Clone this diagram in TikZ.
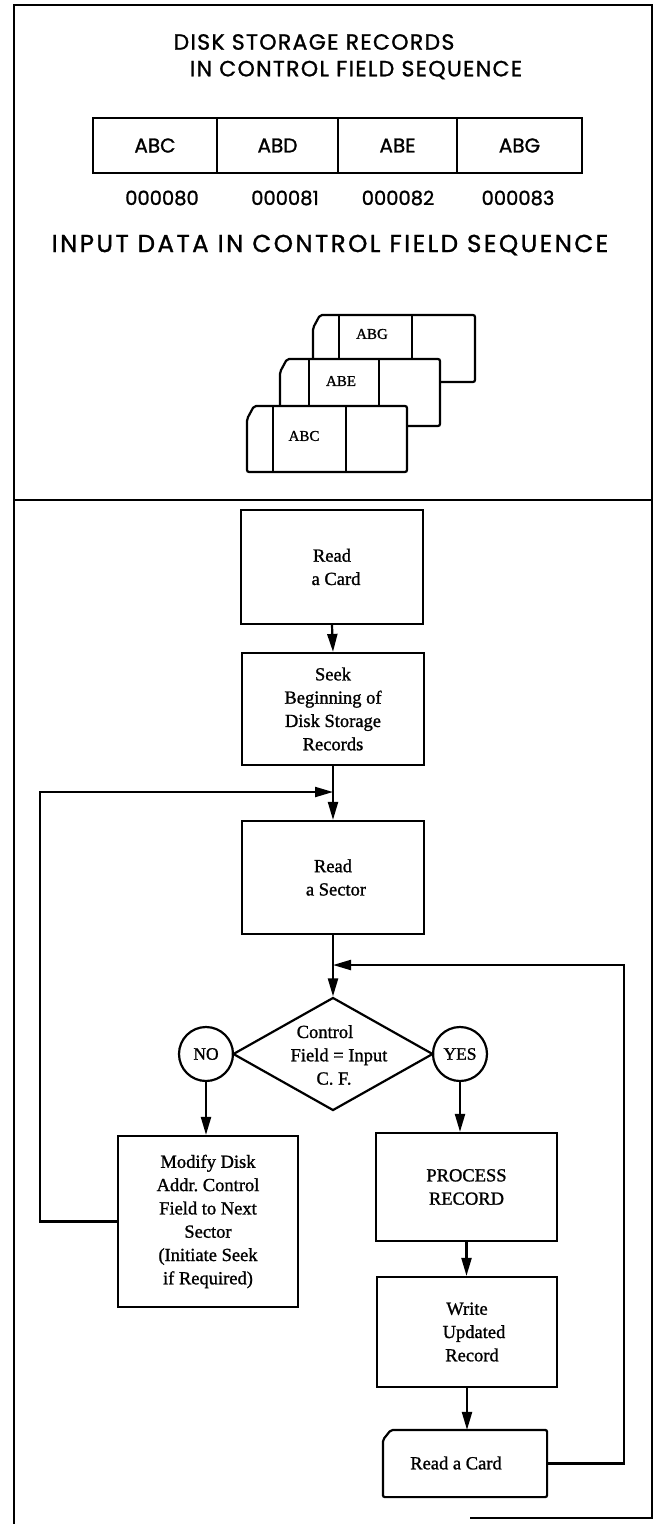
\documentclass[tikz,border=0pt]{standalone}
\usepackage{fontspec}
\setmainfont{Liberation Serif}[FakeBold=1.2]
\newfontfamily\headfont{Poppins}[FakeBold=1.2]
\newfontfamily\headwide{Poppins}[FakeBold=1.2,LetterSpace=6]
\newfontfamily\headwider{Poppins}[FakeBold=1.2,LetterSpace=10]
\usetikzlibrary{arrows.meta,shapes.geometric}
\begin{document}
\begin{tikzpicture}[x=1pt,y=-1pt,
  line width=2.2pt,
  head/.style={font=\headwide\fontsize{22}{26}\selectfont, inner sep=0pt},
  cell/.style={draw, minimum height=55pt, inner sep=0pt, font=\headfont\fontsize{20}{24}\selectfont},
  num/.style={font=\headfont\fontsize{19.5}{24}\selectfont, inner sep=0pt},
  cardtxt/.style={font=\fontsize{15}{16}\selectfont, inner sep=0pt},
  box/.style={draw, inner sep=0pt, align=center, font=\fontsize{18.5}{23.3}\selectfont},
  yn/.style={draw, circle, minimum size=54pt, inner sep=0pt, font=\fontsize{17.5}{18}\selectfont},
  arr/.style={-{Triangle[length=18pt,width=10pt]}, line width=2.2pt},
  card/.style={draw, fill=white, rounded corners=2pt}
]
\useasboundingbox (0,0) rectangle (655,1524);

% frame
\draw (14,1524) -- (14,5) -- (652,5) -- (652,1518) -- (470,1518);
\draw (14,500) -- (652,500);

% ---- top section ----
\node[head] (t1) at (314,42) {DISK STORAGE RECORDS};
\node[head] (t2) at (356,70) {IN CONTROL FIELD SEQUENCE};

\node[cell, minimum width=124pt] (r1) at (155,145.5) {ABC};
\node[cell, minimum width=121pt] (r2) at (277.5,145.5) {ABD};
\node[cell, minimum width=119pt] (r3) at (397.5,145.5) {ABE};
\node[cell, minimum width=125pt] (r4) at (519.5,145.5) {ABG};

\node[num] (n1) at (162,198) {000080};
\node[num] (n2) at (285,198) {000081};
\node[num] (n3) at (398,198) {000082};
\node[num] (n4) at (518,198) {000083};

\node[inner sep=0pt, font=\headwider\fontsize{24.5}{28}\selectfont] (t3) at (330,245) {INPUT DATA IN CONTROL FIELD SEQUENCE};

% cards
\draw[card] (313,382) -- (313,328) -- (320,315) -- (475,315) -- (475,382) -- cycle;
\draw (339,315) -- (339,382) (412,315) -- (412,382);
\node[cardtxt] (cg) at (372,334) {ABG};

\draw[card] (280,426) -- (280,372) -- (287,359) -- (440,359) -- (440,426) -- cycle;
\draw (309,359) -- (309,426) (379,359) -- (379,426);
\node[cardtxt] (ce) at (341,381) {ABE};

\draw[card] (247,472) -- (247,419) -- (254,406) -- (407,406) -- (407,472) -- cycle;
\draw (273,406) -- (273,472) (346,406) -- (346,472);
\node[cardtxt] (cc) at (304,436) {ABC};

% ---- flowchart ----
\node[box, minimum width=182pt, minimum height=114pt] (b1) at (332,567) {Read\\\hspace*{8pt}a Card};
\node[box, minimum width=182pt, minimum height=112pt] (b2) at (333,709) {Seek\\Beginning of\\Disk Storage\\Records};
\node[box, minimum width=182pt, minimum height=113pt] (b3) at (333,877.5) {Read\\\hspace*{6pt}a Sector};
\node[diamond, draw, minimum width=200pt, minimum height=113pt, inner sep=0pt] (dia) at (333,1054) {};
\node[align=center, inner sep=0pt, font=\fontsize{18.5}{23.3}\selectfont] (diat) at (334,1055) {\hspace*{-18pt}Control\\\hspace*{10pt}Field = Input\\C. F.};
\node[yn] (no) at (206,1054) {NO};
\node[yn] (yes) at (460,1054) {YES};
\node[box, minimum width=180pt, minimum height=171pt] (mod) at (208,1221.5) {Modify Disk\\Addr.\ Control\\Field to Next\\Sector\\(Initiate Seek\\if Required)};
\node[box, minimum width=181pt, minimum height=108pt] (proc) at (466.5,1187) {PROCESS\\RECORD};
\node[box, minimum width=180pt, minimum height=110pt] (wr) at (467,1332) {Write\\\hspace*{14pt}Updated\\\hspace*{10pt}Record};
\node[minimum width=162pt, minimum height=65pt, inner sep=0pt] (rc) at (465,1463.5) {};
\draw[rounded corners=2pt] (rc.south west) -- ([yshift=-10pt]rc.north west) -- ([xshift=8pt]rc.north west) -- (rc.north east) -- (rc.south east) -- cycle;
\node[font=\fontsize{18.5}{23}\selectfont, inner sep=0pt] (rct) at (456,1463) {Read a Card};

\coordinate (j1) at (333,792);
\coordinate (j2) at (333,965);

\draw[arr] (b1.south) -- (b2.north);
\draw[arr] (b2.south) -- (b3.north);
\draw[arr] (b3.south) -- (dia.north);
\draw[arr] (mod.west) -- ++(-77,0) |- (j1);
\draw[arr] (rc.east) -- ++(77,0) |- (j2);
\draw[arr] (no.south) -- (no.south |- mod.north);
\draw[arr] (yes.south) -- (yes.south |- proc.north);
\draw[arr] (proc.south) -- (proc.south |- wr.north);
\draw[arr] (wr.south) -- (wr.south |- rc.north);
\end{tikzpicture}
\end{document}
